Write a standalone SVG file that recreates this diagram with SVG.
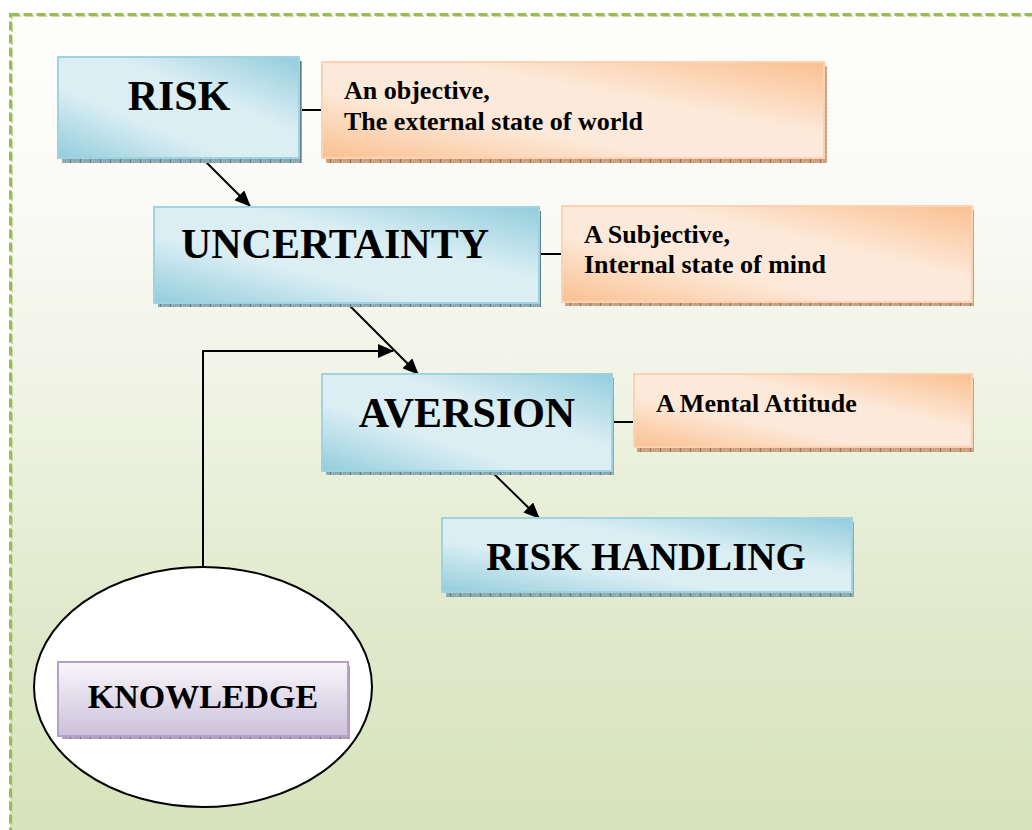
<svg xmlns="http://www.w3.org/2000/svg" width="1032" height="830" viewBox="0 0 1032 830">
<defs>
<linearGradient id="bg" gradientUnits="userSpaceOnUse" x1="0" y1="14" x2="0" y2="830">
<stop offset="0" stop-color="#fefefd"/>
<stop offset="0.25" stop-color="#f9faf5"/>
<stop offset="0.5" stop-color="#eef2e1"/>
<stop offset="0.75" stop-color="#e0e9cb"/>
<stop offset="1" stop-color="#d7e3bb"/>
</linearGradient>
<linearGradient id="blue" x1="0" y1="1" x2="1" y2="0">
<stop offset="0" stop-color="#92cddc"/>
<stop offset="0.35" stop-color="#dbeef4"/>
<stop offset="0.62" stop-color="#dbeef4"/>
<stop offset="1" stop-color="#92cddc"/>
</linearGradient>
<linearGradient id="orange" x1="0" y1="1" x2="1" y2="0">
<stop offset="0" stop-color="#fac090"/>
<stop offset="0.35" stop-color="#fde9d9"/>
<stop offset="0.62" stop-color="#fde9d9"/>
<stop offset="1" stop-color="#fac090"/>
</linearGradient>
<linearGradient id="purple" x1="0" y1="0" x2="0" y2="1">
<stop offset="0" stop-color="#f8f6fa"/>
<stop offset="1" stop-color="#ccc1da"/>
</linearGradient>
<pattern id="shBlue" width="10" height="4" patternUnits="userSpaceOnUse">
<rect width="10" height="4" fill="#8aa9b1"/>
<rect x="2" y="1" width="1" height="1" fill="#b2c6cc"/>
<rect x="6" y="2" width="1" height="1" fill="#b2c6cc"/>
<rect x="0" width="1" height="4" fill="#5f808a"/>
</pattern>
<pattern id="shOrange" width="10" height="4" patternUnits="userSpaceOnUse">
<rect width="10" height="4" fill="#c9a182"/>
<rect x="2" y="1" width="1" height="1" fill="#e0c2aa"/>
<rect x="6" y="2" width="1" height="1" fill="#e0c2aa"/>
<rect x="0" width="1" height="4" fill="#a0704c"/>
</pattern>
<pattern id="shPurple" width="10" height="4" patternUnits="userSpaceOnUse">
<rect width="10" height="4" fill="#a89cb6"/>
<rect x="2" y="1" width="1" height="1" fill="#cbc2d6"/>
<rect x="0" width="1" height="4" fill="#7a6c8c"/>
</pattern>
<marker id="arr" viewBox="0 0 16 14" refX="15" refY="7" markerWidth="16" markerHeight="14" markerUnits="userSpaceOnUse" orient="auto">
<path d="M0,0 L16,7 L0,14 Z" fill="#000"/>
</marker>
<style>
.blue{fill:url(#blue);stroke:#9fd3e0;stroke-width:2}
.orange{fill:url(#orange);stroke:#fcd3b2;stroke-width:2}
.purple{fill:url(#purple);stroke:#b3a2c7;stroke-width:2}
.shb{fill:url(#shBlue)}
.sho{fill:url(#shOrange)}
.shp{fill:url(#shPurple)}
.big{font-family:"Liberation Serif","Times New Roman",serif;font-weight:bold;font-size:42px;fill:#000;text-anchor:middle}
.small{font-family:"Liberation Serif","Times New Roman",serif;font-weight:bold;font-size:26px;fill:#000}
.ln{stroke:#000;stroke-width:2;fill:none}
</style>
</defs>
<rect x="0" y="0" width="1032" height="830" fill="#ffffff"/>
<rect x="10" y="14" width="1040" height="840" fill="url(#bg)"/>
<rect x="12" y="16" width="1040" height="840" fill="none" stroke="#c9dca6" stroke-width="2" stroke-dasharray="9,4"/>
<rect x="10.5" y="14.5" width="1040" height="840" fill="none" stroke="#9bbb59" stroke-width="3" stroke-dasharray="9,4"/>

<g id="connectors">
<line class="ln" x1="300" y1="110" x2="322" y2="110"/>
<line class="ln" x1="540" y1="254" x2="562" y2="254"/>
<line class="ln" x1="612" y1="422" x2="634" y2="422"/>
<line class="ln" x1="203" y1="159" x2="250" y2="206" marker-end="url(#arr)"/>
<line class="ln" x1="347" y1="303" x2="418" y2="374" marker-end="url(#arr)"/>
<line class="ln" x1="491" y1="471" x2="539" y2="518" marker-end="url(#arr)"/>
<polyline class="ln" points="203,567 203,351 393,351" marker-end="url(#arr)"/>
</g>

<g id="risk">
<rect class="shb" x="62" y="61" width="240" height="102"/>
<rect class="blue" x="58" y="57" width="241" height="101"/>
<text class="big" x="179" y="110">RISK</text>
</g>
<g id="objective">
<rect class="sho" x="326" y="66" width="501" height="97"/>
<rect class="orange" x="322" y="62" width="502" height="96"/>
<text class="small" x="344" y="99">An objective,</text>
<text class="small" x="344" y="130">The external state of world</text>
</g>
<g id="uncertainty">
<rect class="shb" x="158" y="211" width="383" height="96"/>
<rect class="blue" x="154" y="207" width="385" height="96"/>
<text class="big" x="335" y="258">UNCERTAINTY</text>
</g>
<g id="subjective">
<rect class="sho" x="565" y="210" width="409" height="96"/>
<rect class="orange" x="562" y="206" width="410" height="96"/>
<text class="small" x="584" y="243">A Subjective,</text>
<text class="small" x="584" y="273">Internal state of mind</text>
</g>
<g id="aversion">
<rect class="shb" x="326" y="378" width="288" height="97"/>
<rect class="blue" x="322" y="374" width="290" height="97"/>
<text class="big" x="467" y="427">AVERSION</text>
</g>
<g id="mental">
<rect class="sho" x="637" y="378" width="337" height="74"/>
<rect class="orange" x="634" y="374" width="338" height="73"/>
<text class="small" x="656" y="412">A Mental Attitude</text>
</g>
<g id="riskhandling">
<rect class="shb" x="446" y="522" width="408" height="75"/>
<rect class="blue" x="442" y="518" width="410" height="74"/>
<text class="big" x="646" y="570" style="font-size:39px">RISK HANDLING</text>
</g>
<g id="knowledge">
<ellipse cx="203" cy="687" rx="169" ry="120" fill="#ffffff" stroke="#000" stroke-width="2"/>
<rect class="shp" x="62" y="666" width="288" height="73"/>
<rect class="purple" x="58" y="662" width="290" height="74"/>
<text class="big" x="203" y="708" style="font-size:34px">KNOWLEDGE</text>
</g>
</svg>
